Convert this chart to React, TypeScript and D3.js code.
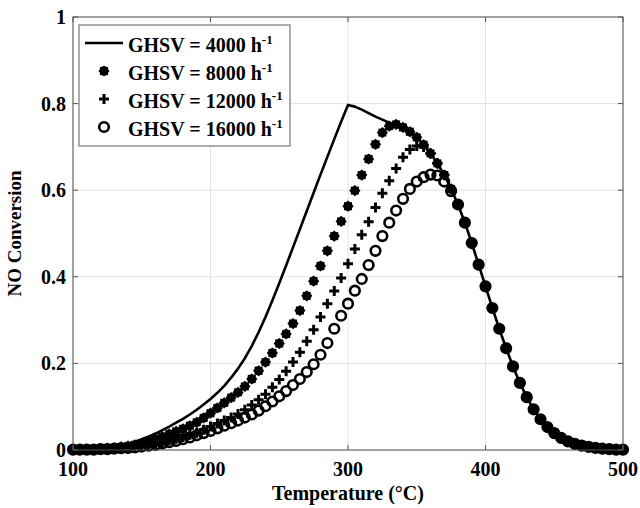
import React, { useEffect, useRef } from 'react'
import * as d3 from 'd3'

// temperature grid (°C)
const temps = [
  100, 105, 110, 115, 120, 125, 130, 135, 140, 145,
  150, 155, 160, 165, 170, 175, 180, 185, 190, 195,
  200, 205, 210, 215, 220, 225, 230, 235, 240, 245,
  250, 255, 260, 265, 270, 275, 280, 285, 290, 295,
  300, 305, 310, 315, 320, 325, 330, 335, 340, 345,
  350, 355, 360, 365, 370, 375, 380, 385, 390, 395,
  400, 405, 410, 415, 420, 425, 430, 435, 440, 445,
  450, 455, 460, 465, 470, 475, 480, 485, 490, 495, 500,
]

const ghsv4000 = [
  0.001, 0.001, 0.002, 0.003, 0.004, 0.006, 0.008, 0.011, 0.015, 0.019,
  0.025, 0.031, 0.038, 0.046, 0.054, 0.063, 0.072, 0.082, 0.093, 0.105,
  0.118, 0.132, 0.148, 0.167, 0.188, 0.212, 0.240, 0.272, 0.307, 0.345,
  0.385, 0.426, 0.468, 0.510, 0.552, 0.594, 0.636, 0.677, 0.718, 0.758,
  0.797, 0.793, 0.786, 0.778, 0.770, 0.763, 0.756, 0.750, 0.745, 0.735,
  0.722, 0.705, 0.685, 0.662, 0.635, 0.603, 0.567, 0.525, 0.478, 0.428,
  0.378, 0.328, 0.280, 0.235, 0.193, 0.155, 0.122, 0.094, 0.071, 0.053,
  0.039, 0.028, 0.020, 0.014, 0.010, 0.007, 0.005, 0.003, 0.002, 0.001, 0.001,
]

const ghsv8000 = [
  0.001, 0.001, 0.002, 0.002, 0.003, 0.004, 0.005, 0.007, 0.009, 0.012,
  0.015, 0.020, 0.026, 0.031, 0.037, 0.043, 0.049, 0.056, 0.064, 0.074,
  0.085, 0.097, 0.109, 0.121, 0.133, 0.147, 0.164, 0.183, 0.203, 0.224,
  0.246, 0.268, 0.292, 0.322, 0.356, 0.390, 0.425, 0.460, 0.494, 0.528,
  0.563, 0.599, 0.635, 0.672, 0.706, 0.733, 0.748, 0.752, 0.745, 0.735,
  0.722, 0.705, 0.685, 0.662, 0.635, 0.603, 0.567, 0.525, 0.478, 0.428,
  0.378, 0.328, 0.280, 0.235, 0.193, 0.155, 0.122, 0.094, 0.071, 0.053,
  0.039, 0.028, 0.020, 0.014, 0.010, 0.007, 0.005, 0.003, 0.002, 0.001, 0.001,
]

const ghsv12000 = [
  0.001, 0.001, 0.001, 0.002, 0.002, 0.003, 0.004, 0.005, 0.006, 0.008,
  0.010, 0.012, 0.015, 0.018, 0.022, 0.026, 0.030, 0.035, 0.040, 0.047,
  0.054, 0.061, 0.068, 0.075, 0.083, 0.093, 0.104, 0.116, 0.129, 0.145,
  0.163, 0.182, 0.203, 0.226, 0.251, 0.278, 0.307, 0.338, 0.367, 0.397,
  0.430, 0.464, 0.497, 0.527, 0.560, 0.593, 0.622, 0.650, 0.676, 0.694,
  0.702, 0.700, 0.685, 0.662, 0.635, 0.603, 0.567, 0.525, 0.478, 0.428,
  0.378, 0.328, 0.280, 0.235, 0.193, 0.155, 0.122, 0.094, 0.071, 0.053,
  0.039, 0.028, 0.020, 0.014, 0.010, 0.007, 0.005, 0.003, 0.002, 0.001, 0.001,
]

const ghsv16000 = [
  0.001, 0.001, 0.001, 0.001, 0.002, 0.002, 0.003, 0.004, 0.005, 0.006,
  0.008, 0.010, 0.012, 0.015, 0.018, 0.021, 0.025, 0.029, 0.034, 0.039,
  0.044, 0.050, 0.056, 0.062, 0.068, 0.075, 0.082, 0.091, 0.101, 0.112,
  0.124, 0.136, 0.150, 0.164, 0.180, 0.198, 0.220, 0.247, 0.280, 0.310,
  0.338, 0.368, 0.395, 0.427, 0.460, 0.494, 0.525, 0.553, 0.580, 0.603,
  0.620, 0.630, 0.636, 0.634, 0.620, 0.598, 0.567, 0.525, 0.478, 0.428,
  0.378, 0.328, 0.280, 0.235, 0.193, 0.155, 0.122, 0.094, 0.071, 0.053,
  0.039, 0.028, 0.020, 0.014, 0.010, 0.007, 0.005, 0.003, 0.002, 0.001, 0.001,
]

const xTicks = [100, 200, 300, 400, 500]
const yTicks = [0, 0.2, 0.4, 0.6, 0.8, 1]
const legendLabels = ['GHSV = 4000 h', 'GHSV = 8000 h', 'GHSV = 12000 h', 'GHSV = 16000 h']

const FONT = '"Liberation Serif", "Times New Roman", serif'

const App = () => {
  const ref = useRef<SVGSVGElement | null>(null)

  useEffect(() => {
    const width = 640
    const height = 508
    const left = 73, right = 623, top = 17, bottom = 450

    const svg = d3.select(ref.current)
    svg.selectAll('*').remove()

    const x = d3.scaleLinear().domain([100, 500]).range([left, right])
    const y = d3.scaleLinear().domain([0, 1]).range([bottom, top])

    svg.append('rect').attr('width', width).attr('height', height).attr('fill', '#fff')

    // grid
    const grid = svg.append('g').attr('stroke', '#e3e3e3').attr('stroke-width', 1)
    xTicks.forEach((t) => {
      grid.append('line').attr('x1', x(t)).attr('x2', x(t)).attr('y1', top).attr('y2', bottom)
    })
    yTicks.forEach((t) => {
      grid.append('line').attr('x1', left).attr('x2', right).attr('y1', y(t)).attr('y2', y(t))
    })

    // data
    const pts = (vals: number[]) => temps.map((t, i) => [t, vals[i]] as [number, number])

    const line = d3
      .line<[number, number]>()
      .x((d) => x(d[0]))
      .y((d) => y(d[1]))

    svg
      .append('path')
      .attr('d', line(pts(ghsv4000)))
      .attr('fill', 'none')
      .attr('stroke', '#000')
      .attr('stroke-width', 2.6)
      .attr('stroke-linejoin', 'round')

    // gear-like filled marker
    const gear = d3
      .lineRadial<number>()
      .angle((d, i) => (i * Math.PI) / 8)
      .radius((d) => d)
      .curve(d3.curveLinearClosed)
    const gearPath = gear(d3.range(16).map((i) => (i % 2 === 0 ? 5.6 : 4.5))) as string

    const drawStar = (g: any, cx: number, cy: number) =>
      g.append('path').attr('d', gearPath).attr('transform', `translate(${cx},${cy})`).attr('fill', '#000')
    const drawPlus = (g: any, cx: number, cy: number) =>
      g
        .append('path')
        .attr('d', `M${cx - 5},${cy}H${cx + 5}M${cx},${cy - 5}V${cy + 5}`)
        .attr('stroke', '#000')
        .attr('stroke-width', 3)
        .attr('fill', 'none')
    const drawCircle = (g: any, cx: number, cy: number) =>
      g
        .append('circle')
        .attr('cx', cx)
        .attr('cy', cy)
        .attr('r', 4.8)
        .attr('fill', 'none')
        .attr('stroke', '#000')
        .attr('stroke-width', 2.6)

    const g8 = svg.append('g')
    pts(ghsv8000).forEach((d) => drawStar(g8, x(d[0]), y(d[1])))
    const g12 = svg.append('g')
    pts(ghsv12000).forEach((d) => drawPlus(g12, x(d[0]), y(d[1])))
    const g16 = svg.append('g')
    pts(ghsv16000).forEach((d) => drawCircle(g16, x(d[0]), y(d[1])))

    // axes box
    svg
      .append('rect')
      .attr('x', left)
      .attr('y', top)
      .attr('width', right - left)
      .attr('height', bottom - top)
      .attr('fill', 'none')
      .attr('stroke', '#555')
      .attr('stroke-width', 1)

    const ticks = svg.append('g').attr('stroke', '#555').attr('stroke-width', 1)
    xTicks.forEach((t) => {
      ticks.append('line').attr('x1', x(t)).attr('x2', x(t)).attr('y1', bottom).attr('y2', bottom - 5)
      ticks.append('line').attr('x1', x(t)).attr('x2', x(t)).attr('y1', top).attr('y2', top + 5)
    })
    yTicks.forEach((t) => {
      ticks.append('line').attr('x1', left).attr('x2', left + 5).attr('y1', y(t)).attr('y2', y(t))
      ticks.append('line').attr('x1', right).attr('x2', right - 5).attr('y1', y(t)).attr('y2', y(t))
    })

    const txt = svg.append('g').attr('font-family', FONT).attr('font-weight', 'bold').attr('fill', '#000')

    xTicks.forEach((t) => {
      txt
        .append('text')
        .attr('x', x(t))
        .attr('y', bottom + 26)
        .attr('text-anchor', 'middle')
        .attr('font-size', 20)
        .text(d3.format('d')(t))
    })
    yTicks.forEach((t) => {
      txt
        .append('text')
        .attr('x', left - 7)
        .attr('y', y(t) + 7)
        .attr('text-anchor', 'end')
        .attr('font-size', 20)
        .text(t === 0 || t === 1 ? String(t) : d3.format('.1f')(t))
    })

    txt
      .append('text')
      .attr('x', (left + right) / 2)
      .attr('y', 500)
      .attr('text-anchor', 'middle')
      .attr('font-size', 20)
      .text('Temperature (°C)')

    txt
      .append('text')
      .attr('transform', `translate(21,${(top + bottom) / 2}) rotate(-90)`)
      .attr('text-anchor', 'middle')
      .attr('font-size', 19)
      .text('NO Conversion')

    // legend
    const lg = svg.append('g')
    lg.append('rect')
      .attr('x', 79)
      .attr('y', 25)
      .attr('width', 211)
      .attr('height', 121)
      .attr('fill', '#fff')
      .attr('stroke', '#777')
      .attr('stroke-width', 1.2)

    const rowY = [43, 71, 99, 127]
    lg.append('line')
      .attr('x1', 85)
      .attr('x2', 123)
      .attr('y1', rowY[0])
      .attr('y2', rowY[0])
      .attr('stroke', '#000')
      .attr('stroke-width', 2.6)
    drawStar(lg, 104, rowY[1])
    drawPlus(lg, 104, rowY[2])
    drawCircle(lg, 104, rowY[3])

    legendLabels.forEach((label, i) => {
      const t = lg
        .append('text')
        .attr('x', 128)
        .attr('y', rowY[i] + 9)
        .attr('font-family', FONT)
        .attr('font-weight', 'bold')
        .attr('font-size', 20)
        .text(label)
      t.append('tspan').attr('dy', -8).attr('font-size', 13).text('-1')
    })

    return () => {
      svg.selectAll('*').remove()
    }
  }, [])

  return (
    <div style={{ position: 'fixed', left: 0, top: 0 }}>
      <svg ref={ref} width={640} height={508} style={{ display: 'block' }} />
    </div>
  )
}

export default App
